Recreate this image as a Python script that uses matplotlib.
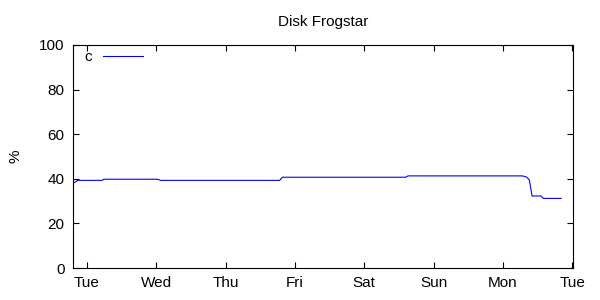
import matplotlib
matplotlib.use("Agg")
import matplotlib.pyplot as plt

# time in days since the first Tuesday tick, disk usage in %
days = [-0.20, -0.13, 0.22, 0.24, 1.02, 1.06, 2.78, 2.82, 4.60, 4.63,
        6.28, 6.34, 6.38, 6.42, 6.55, 6.58, 6.84]
usage = [38.0, 39.3, 39.3, 39.8, 39.8, 39.3, 39.3, 40.7, 40.7, 41.3,
         41.3, 40.8, 39.5, 32.3, 32.3, 31.2, 31.2]

day_labels = ["Tue", "Wed", "Thu", "Fri", "Sat", "Sun", "Mon", "Tue"]
y_ticks = [0, 20, 40, 60, 80, 100]

plt.rcParams['font.family'] = ['Liberation Sans', 'DejaVu Sans']
plt.rcParams['font.size'] = 11

fig = plt.figure(figsize=(6, 3), dpi=100)
ax = fig.add_axes([73 / 600, 1 - 268 / 300, 500 / 600, 223 / 300])

ax.plot(days, usage, color=(0, 0, 1), linewidth=0.8, label="c")

ax.set_xlim(-0.2, 7.01)
ax.set_ylim(0, 100)
ax.set_xticks(range(len(day_labels)))
ax.set_xticklabels(day_labels)
ax.set_yticks(y_ticks)
ax.tick_params(direction='in', length=4, width=0.8, top=True, right=True,
               labeltop=False, labelright=False, pad=6)
for s in ax.spines.values():
    s.set_linewidth(0.8)

ax.set_title("Disk Frogstar", fontsize=11, pad=14)
ax.set_ylabel("%", labelpad=12)

ax.legend(loc='upper left', bbox_to_anchor=(0.017, 0.99), markerfirst=False,
          frameon=False, handlelength=2.6, borderaxespad=0.0, borderpad=0.2,
          handletextpad=0.7)

fig.savefig("out.png", dpi=100)
